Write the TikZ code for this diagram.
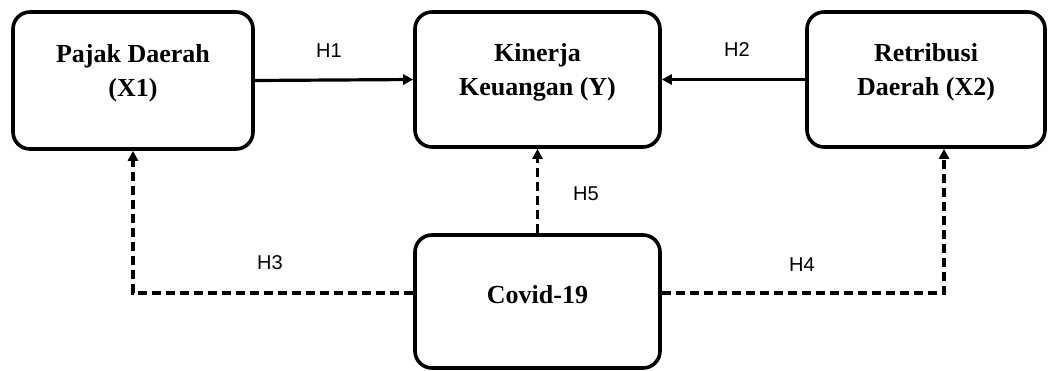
\documentclass[tikz,border=0pt]{standalone}
\usepackage{fontspec}
\setmainfont{Liberation Serif}
\newfontfamily\hfont{Liberation Sans}
\usetikzlibrary{arrows.meta}
\tikzset{
  box/.style={draw, line width=3.6pt, rounded corners=17pt, fill=white, inner sep=0pt},
  boxtext/.style={align=center, font=\fontsize{26}{34}\selectfont\bfseries, inner sep=0pt},
  hyp/.style={font=\hfont\fontsize{20}{24}\selectfont, inner sep=0pt},
  arr/.style={line width=3.2pt, -{Triangle[length=10pt,width=10pt]}},
  darr/.style={arr, dash pattern=on 9pt off 5pt},
}
\begin{document}
\begin{tikzpicture}[x=1pt,y=-1pt]
\useasboundingbox (0,0) rectangle (1049,370);
\node[box, minimum width=240pt, minimum height=137pt] (p) at (133,80.5) {};
\node[box, minimum width=245pt, minimum height=135pt] (k) at (537.5,79.5) {};
\node[box, minimum width=238pt, minimum height=135pt] (r) at (926,79.5) {};
\node[box, minimum width=245pt, minimum height=133pt] (c) at (537.5,301.5) {};
\node[boxtext] (pt) at (133,73) {Pajak Daerah\\(X1)};
\node[boxtext] (kt) at (537.5,72) {Kinerja\\Keuangan (Y)};
\node[boxtext] (rt) at (926,72) {Retribusi\\Daerah (X2)};
\node[boxtext] (ct) at (537.5,295) {Covid-19};
\draw[arr] (p.east) -- (k.west);
\draw[arr] (r.west) -- (k.east);
\draw[darr] (c.north) -- (k.south);
\draw[darr] ([yshift=8.5pt]c.west) -| (p.south);
\draw[darr] ([yshift=8.5pt]c.east) -| ([xshift=18pt]r.south);
\node[hyp] (h1) at (329,51) {H1};
\node[hyp] (h2) at (737,50) {H2};
\node[hyp] (h5) at (586,194) {H5};
\node[hyp] (h3) at (270,263) {H3};
\node[hyp] (h4) at (802,265) {H4};
\end{tikzpicture}
\end{document}
